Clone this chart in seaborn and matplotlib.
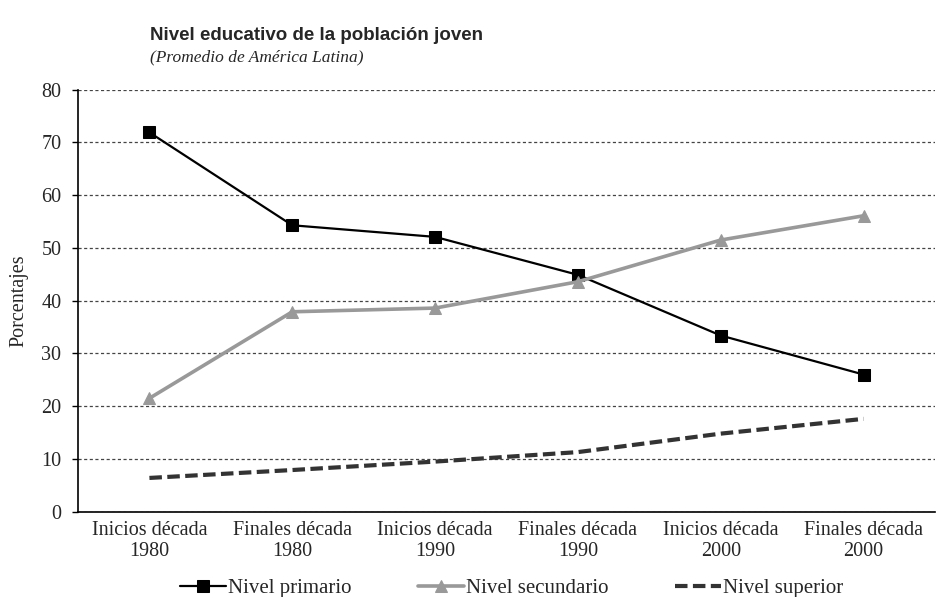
import pandas as pd
import matplotlib
matplotlib.use("Agg")
import matplotlib.pyplot as plt
from matplotlib.ticker import MultipleLocator, FixedLocator
import seaborn as sns

# === DATOS ===
periodos = ["Inicios década\n1980", "Finales década\n1980", "Inicios década\n1990",
            "Finales década\n1990", "Inicios década\n2000", "Finales década\n2000"]
primario = [71.9, 54.3, 52.1, 44.9, 33.4, 26.0]
secundario = [21.5, 37.9, 38.6, 43.6, 51.5, 56.1]
superior = [6.4, 7.9, 9.5, 11.3, 14.8, 17.6]

pos = list(range(len(periodos)))
df = pd.DataFrame({"pos": pos, "Nivel primario": primario,
                   "Nivel secundario": secundario, "Nivel superior": superior})

# === ESTILO ===
sns.set_theme(style="white")
plt.rcParams["font.family"] = ["Liberation Serif", "DejaVu Serif"]

fig = plt.figure(figsize=(9.36, 5.97), dpi=100)
ax = fig.add_axes([78 / 936, 1 - 511.7 / 597, 857 / 936, 422 / 597])

sns.lineplot(data=df, x="pos", y="Nivel primario", ax=ax, color="black",
             linewidth=1.6, marker="s", markersize=8, markeredgecolor="black",
             label="Nivel primario")
sns.lineplot(data=df, x="pos", y="Nivel secundario", ax=ax, color="#999999",
             linewidth=2.6, marker="^", markersize=9, markeredgecolor="#999999",
             label="Nivel secundario")
sns.lineplot(data=df, x="pos", y="Nivel superior", ax=ax, color="#333333",
             linewidth=3, linestyle=(0, (3, 1.3)), label="Nivel superior")

# === EJES ===
ax.set_xlim(-0.5, len(periodos) - 0.5)
ax.set_ylim(0, 80)
ax.yaxis.set_major_locator(MultipleLocator(10))
ax.set_xticks(pos)
ax.set_xticklabels(periodos, fontsize=14.5, linespacing=1.1)
ax.xaxis.set_minor_locator(FixedLocator([p - 0.5 for p in pos] + [len(pos) - 0.5]))
ax.tick_params(axis="x", which="major", length=0, pad=7)
ax.tick_params(axis="x", which="minor", length=4.5, width=1, color="black", direction="out")
ax.tick_params(axis="y", labelsize=14.5, length=4.5, width=1, color="black",
               direction="out", left=True, pad=7.5)
ax.set_xlabel("")
ax.set_ylabel("Porcentajes", fontsize=14.5, labelpad=9)

for s in ["top", "right"]:
    ax.spines[s].set_visible(False)
for s in ["left", "bottom"]:
    ax.spines[s].set_color("black")
    ax.spines[s].set_linewidth(1.2)

ax.grid(axis="y", linestyle=(0, (2.5, 2)), color="#444444", linewidth=0.9)
ax.grid(axis="x", visible=False)
ax.set_axisbelow(True)

# === TÍTULOS ===
fig.text(150 / 936, 1 - 35 / 597, "Nivel educativo de la población joven",
         family=["Liberation Sans", "DejaVu Sans"], fontweight="bold", fontsize=13.5,
         ha="left", va="center")
fig.text(150 / 936, 1 - 57 / 597, "(Promedio de América Latina)",
         style="italic", fontsize=12.5, ha="left", va="center")

# === LEYENDA ===
handles, labels = ax.get_legend_handles_labels()
ax.get_legend().remove()
fig.legend(handles, labels, loc="center", bbox_to_anchor=(512 / 936, 1 - 588 / 597),
           ncol=3, frameon=False, fontsize=15, handlelength=2.2, handletextpad=0.1,
           columnspacing=3.2, borderaxespad=0, numpoints=1)

fig.savefig("out.png", dpi=100)
